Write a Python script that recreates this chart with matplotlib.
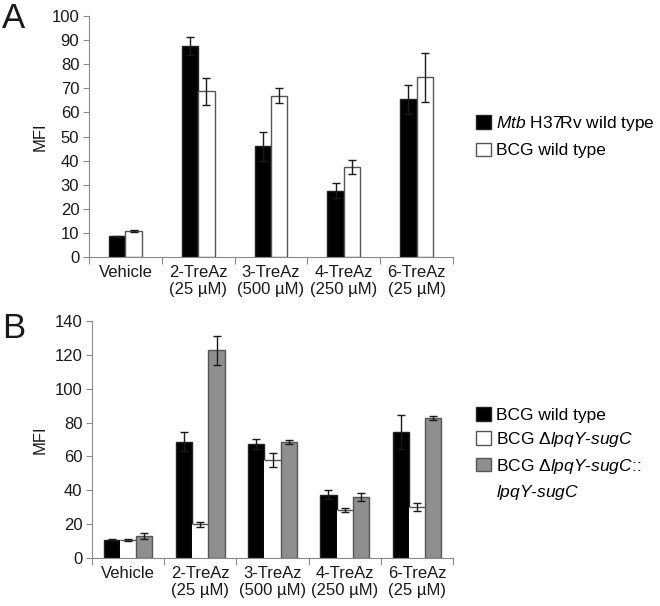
"""Two-panel bar chart of TreAz labelling (MFI) across mycobacterial strains."""

import matplotlib
matplotlib.use("Agg")
import matplotlib.pyplot as plt
import numpy as np
from matplotlib.patches import Patch

plt.rcParams["font.family"] = ["Liberation Sans", "DejaVu Sans"]
plt.rcParams["mathtext.fontset"] = "custom"
plt.rcParams["mathtext.rm"] = "Liberation Sans"
plt.rcParams["mathtext.it"] = "Liberation Sans:italic"

CATEGORIES = ["Vehicle", "2-TreAz\n(25 µM)", "3-TreAz\n(500 µM)",
              "4-TreAz\n(250 µM)", "6-TreAz\n(25 µM)"]

# Panel A
MTB_WT = [8.6, 87.5, 46.0, 27.5, 65.5]
MTB_WT_ERR = [0.3, 3.8, 6.0, 3.0, 6.0]
BCG_WT_A = [10.9, 68.7, 67.0, 37.3, 74.5]
BCG_WT_A_ERR = [0.4, 5.6, 3.0, 2.8, 10.0]

# Panel B
BCG_WT_B = [10.8, 68.7, 67.3, 37.4, 74.6]
BCG_WT_B_ERR = [0.4, 5.6, 2.8, 2.8, 10.0]
BCG_DELTA = [10.8, 19.8, 57.9, 28.4, 30.1]
BCG_DELTA_ERR = [0.5, 1.5, 3.9, 1.2, 2.4]
BCG_COMP = [13.2, 122.8, 68.8, 36.0, 82.8]
BCG_COMP_ERR = [1.7, 8.6, 1.2, 2.5, 1.3]

SPINE = "#8a8a8a"
EDGE = "#555555"
GREY_FILL = "#8f8f8f"
TEXT = "#1a1a1a"
FONT = 12
LEGEND_FONT = 12.5
BAR_W = 0.225


def style_axes(ax, ymax, ystep, label_x):
    n = len(CATEGORIES)
    x = np.arange(n)
    ax.set_xlim(-0.5, n - 0.5)
    ax.set_ylim(0, ymax)
    ax.set_yticks(np.arange(0, ymax + 1, ystep))
    ax.set_xticks(np.arange(-0.5, n, 1.0))
    ax.set_xticklabels([])
    ax.set_xticks(x, minor=True)
    ax.set_xticklabels(CATEGORIES, minor=True, fontsize=FONT, color=TEXT,
                       linespacing=1.1)
    ax.tick_params(axis="x", which="minor", length=0, pad=6)
    ax.tick_params(axis="x", which="major", length=5, color=SPINE)
    ax.tick_params(axis="y", length=4, color=SPINE, labelsize=FONT,
                   labelcolor=TEXT, pad=3)
    ax.spines[["top", "right"]].set_visible(False)
    ax.spines[["left", "bottom"]].set_color(SPINE)
    ax.set_ylabel("MFI", fontsize=FONT, color=TEXT)
    ax.yaxis.set_label_coords(label_x, 0.5)


def bars_with_err(ax, x, values, errors, face, edge):
    ax.bar(x, values, BAR_W, color=face, edgecolor=edge, linewidth=1, zorder=2)
    ax.errorbar(x, values, yerr=errors, fmt="none", ecolor=TEXT,
                elinewidth=1, capsize=3, capthick=1, zorder=3)


fig = plt.figure(figsize=(6.6, 6.06), dpi=100)
x = np.arange(len(CATEGORIES))

# ---- Panel A ----
ax_a = fig.add_axes([89 / 660, 1 - 257 / 606, 364 / 660, 241 / 606])
bars_with_err(ax_a, x - BAR_W / 2, MTB_WT, MTB_WT_ERR, "black", "#222222")
bars_with_err(ax_a, x + BAR_W / 2, BCG_WT_A, BCG_WT_A_ERR, "white", EDGE)
style_axes(ax_a, 100, 10, (48 - 89) / 364)

handles_a = [
    Patch(facecolor="black", edgecolor="#222222"),
    Patch(facecolor="white", edgecolor=EDGE),
]
labels_a = [r"$\mathit{Mtb}$ H37Rv wild type", "BCG wild type"]
fig.legend(handles_a, labels_a, loc="upper left",
           bbox_to_anchor=(476 / 660, 1 - 114 / 606), frameon=False,
           fontsize=LEGEND_FONT, handlelength=0.85, handleheight=0.85,
           handletextpad=0.3, labelspacing=0.55, borderpad=0,
           borderaxespad=0)

# ---- Panel B ----
ax_b = fig.add_axes([92 / 660, 1 - 558 / 606, 361 / 660, 237 / 606])
bars_with_err(ax_b, x - BAR_W, BCG_WT_B, BCG_WT_B_ERR, "black", "#222222")
ax_b.bar(x, BCG_DELTA, BAR_W, color="white", edgecolor="none", zorder=2)
ax_b.hlines(BCG_DELTA, x - BAR_W / 2, x + BAR_W / 2, color=EDGE,
            linewidth=1, zorder=3)
ax_b.errorbar(x, BCG_DELTA, yerr=BCG_DELTA_ERR, fmt="none", ecolor=TEXT,
              elinewidth=1, capsize=3, capthick=1, zorder=3)
bars_with_err(ax_b, x + BAR_W, BCG_COMP, BCG_COMP_ERR, GREY_FILL, EDGE)
style_axes(ax_b, 140, 20, (48 - 92) / 361)

handles_b = [
    Patch(facecolor="black", edgecolor="#222222"),
    Patch(facecolor="white", edgecolor=EDGE),
    Patch(facecolor=GREY_FILL, edgecolor=EDGE),
    Patch(facecolor="none", edgecolor="none"),
]
labels_b = [
    "BCG wild type",
    r"BCG Δ$\mathit{lpqY}$-$\mathit{sugC}$",
    r"BCG Δ$\mathit{lpqY}$-$\mathit{sugC}$::",
    r"$\mathit{lpqY}$-$\mathit{sugC}$",
]
fig.legend(handles_b, labels_b, loc="upper left",
           bbox_to_anchor=(476 / 660, 1 - 407 / 606), frameon=False,
           fontsize=LEGEND_FONT, handlelength=0.85, handleheight=0.85,
           handletextpad=0.3, labelspacing=0.42, borderpad=0,
           borderaxespad=0)

# Panel letters
fig.text(2 / 660, 1 - 2 / 606, "A", fontsize=25, va="top", ha="left", color=TEXT)
fig.text(2 / 660, 1 - 312 / 606, "B", fontsize=25, va="top", ha="left", color=TEXT)

fig.savefig("out.png", dpi=100)
